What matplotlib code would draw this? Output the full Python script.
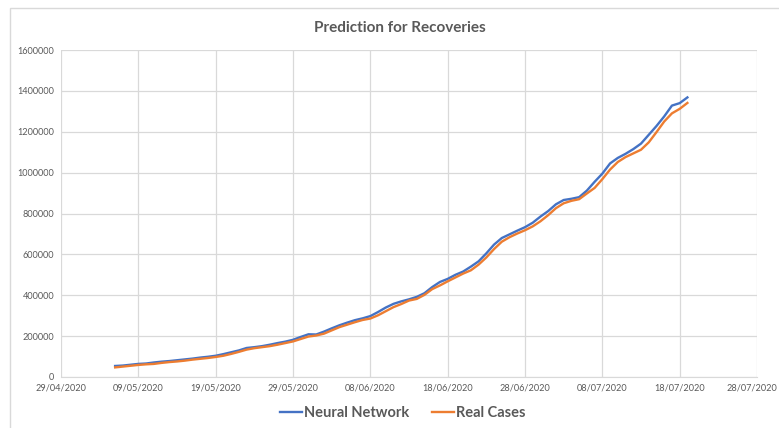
import numpy as np
import pandas as pd
import matplotlib
matplotlib.use("Agg")
import matplotlib.pyplot as plt
import matplotlib.dates as mdates
from matplotlib.patches import Rectangle
from matplotlib.transforms import ScaledTranslation

dates = pd.date_range("2020-05-06", "2020-07-19", freq="D")

neural_network = [
    54000, 56000, 60000, 64000, 66000, 71000, 75000, 78000, 82000, 86000,
    90000, 95000, 99000, 104000, 112000, 121000, 130000, 142000, 146000, 151000,
    158000, 166000, 173000, 182000, 196000, 209000, 208000, 222000, 238000, 253000,
    266000, 278000, 287000, 298000, 318000, 340000, 358000, 370000, 380000, 392000,
    410000, 440000, 465000, 480000, 500000, 516000, 540000, 566000, 605000, 648000,
    680000, 698000, 716000, 733000, 755000, 785000, 812000, 845000, 866000, 872000,
    880000, 912000, 955000, 995000, 1045000, 1072000, 1092000, 1115000, 1142000, 1185000,
    1228000, 1275000, 1328000, 1340000, 1368000,
]

real_cases = [
    47000, 51000, 55000, 59000, 62000, 64000, 69000, 73000, 76000, 80000,
    85000, 89000, 93000, 98000, 104000, 113000, 123000, 134000, 141000, 146000,
    151000, 158000, 166000, 174000, 186000, 198000, 203000, 212000, 228000, 244000,
    256000, 268000, 279000, 286000, 302000, 322000, 342000, 357000, 374000, 382000,
    402000, 430000, 448000, 468000, 487000, 506000, 522000, 550000, 585000, 626000,
    662000, 684000, 702000, 718000, 737000, 762000, 792000, 826000, 850000, 862000,
    870000, 898000, 925000, 968000, 1015000, 1052000, 1076000, 1094000, 1112000, 1148000,
    1198000, 1250000, 1290000, 1312000, 1341000,
]

tick_dates = pd.date_range("2020-04-29", "2020-07-28", freq="10D")
y_ticks = list(range(0, 1600001, 200000))

plt.rcParams["font.family"] = ["Lato", "DejaVu Sans"]
text_color = "#595959"
grid_color = "#D9D9D9"

fig = plt.figure(figsize=(7.79, 4.28), dpi=100)
fig.patches.append(Rectangle((10 / 779, -0.01), 1.0, 1 - 8 / 428 + 0.01,
                             transform=fig.transFigure, fill=False,
                             edgecolor="#D9D9D9", linewidth=1))
ax = fig.add_axes([61 / 779, 1 - 377 / 428, (757 - 61) / 779, (377 - 50) / 428])

ax.plot(dates, neural_network, color="#4472C4", linewidth=1.7, label="Neural Network")
ax.plot(dates, real_cases, color="#ED7D31", linewidth=1.7, label="Real Cases")

ax.set_xlim(tick_dates[0], tick_dates[-1])
ax.set_ylim(0, 1600000)
ax.set_xticks(tick_dates)
ax.xaxis.set_major_formatter(mdates.DateFormatter("%d/%m/%Y"))
ax.set_yticks(y_ticks)
ax.set_yticklabels([str(v) for v in y_ticks])

ax.grid(True, color=grid_color, linewidth=0.9)
ax.set_axisbelow(True)
for side in ["top", "right", "left"]:
    ax.spines[side].set_visible(False)
ax.spines["bottom"].set_color(grid_color)
ax.tick_params(axis="both", length=0, labelsize=6.6, colors=text_color, pad=5)

# keep the last date label inside the image
last = ax.get_xticklabels()[-1]
last.set_transform(last.get_transform() + ScaledTranslation(-5 / 100, 0, fig.dpi_scale_trans))

fig.text(0.513, 1 - 28 / 428, "Prediction for Recoveries", ha="center", va="center",
         fontsize=11, fontweight="bold", color=text_color)

leg = fig.legend(loc="center", bbox_to_anchor=(0.517, 1 - 413 / 428), ncol=2,
                 frameon=False, fontsize=10.5, handlelength=1.5, columnspacing=1.6,
                 handletextpad=0.15)
for t in leg.get_texts():
    t.set_color(text_color)
    t.set_fontweight("bold")

fig.savefig("out.png", dpi=100)
